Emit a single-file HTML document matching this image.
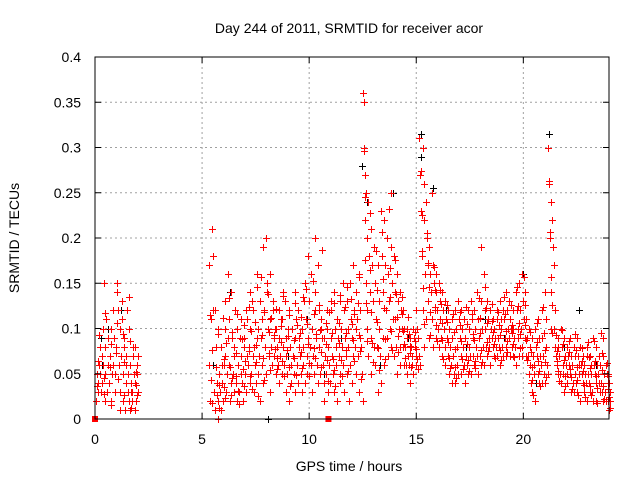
<!DOCTYPE html>
<html><head><meta charset="utf-8">
<style>
html,body{margin:0;padding:0;background:#fff;}
svg{display:block;font-family:"Liberation Sans",sans-serif;}
</style></head>
<body>
<svg id="chart" width="640" height="480" viewBox="0 0 640 480">
<rect width="640" height="480" fill="#fff"/>
<g id="grid"></g>
<g id="black-pts"></g>
<g id="red-pts"></g>
<rect x="95" y="57" width="514" height="362" fill="none" stroke="#000" stroke-width="1"/>
<g id="ticks"></g>
<text x="349" y="33" text-anchor="middle" font-size="14" fill="#000">Day 244 of 2011, SRMTID for receiver acor</text>
<text x="349" y="471" text-anchor="middle" font-size="14" fill="#000">GPS time / hours</text>
<text transform="translate(19,238) rotate(-90)" text-anchor="middle" font-size="14" fill="#000">SRMTID / TECUs</text>
</svg>
<script>
const xTicks=[0,5,10,15,20];
const yTicks=[0,0.05,0.1,0.15,0.2,0.25,0.3,0.35,0.4];
const yTickLabels=["0","0.05","0.1","0.15","0.2","0.25","0.3","0.35","0.4"];
const redTimes=[0.05,0.15,0.25,0.35,0.45,0.55,0.65,0.75,0.85,0.95,1.05,1.15,1.25,1.35,1.45,1.55,1.65,1.75,1.85,1.95,
5.3,5.45,5.6,5.75,5.9,6.05,6.2,6.35,6.5,6.65,6.8,6.95,7.1,7.25,7.4,7.55,7.7,7.85,8.0,8.15,8.3,8.45,8.6,8.75,8.9,9.05,9.2,9.35,9.5,9.65,9.8,9.95,10.1,10.25,10.4,10.55,10.7,10.85,11.0,11.15,11.3,11.45,11.6,11.75,11.9,12.05,12.2,12.35,12.5,12.6,12.75,12.9,13.05,13.2,13.35,13.5,13.65,13.8,13.95,14.1,14.25,14.4,14.55,14.7,14.85,15.0,15.15,15.3,15.45,15.6,15.75,15.9,16.05,16.2,16.35,16.5,16.65,16.8,16.95,17.1,17.25,17.4,17.55,17.7,17.85,18.0,18.15,18.3,18.45,18.6,18.75,18.9,19.05,19.2,19.35,19.5,19.65,19.8,19.95,20.1,20.25,20.4,20.55,20.7,20.85,21.0,21.15,21.3,21.45,21.6,21.75,21.9,22.05,22.2,22.35,22.5,22.65,22.8,22.95,23.1,23.25,23.4,23.55,23.7,23.85,23.95];
const redValues=[[.02,.05,.04],[.03,.06,.08],[.05,.03,.07,.1],[.04,.06,.15,.02],[.08,.05,.11],[.03,.06,.09],[.04,.07,.1],[.02,.05,.12],[.06,.09,.03],[.05,.08,.14],[.15,.12,.06,.01],[.1,.03,.07,.13],[.11,.02,.05,.08],[.09,.01,.04,.06],[.07,.12,.03,.02],[.05,.1,.01,.03],[.06,.04,.02,.08],[.03,.07,.05,.01],[.08,.04,.02,.06],[.05,.07,.03],
[.17,.06,.02,.11],[.21,.18,.12,.03,.01],[.12,.08,.04,.02,.0],[.1,.05,.03,.01,.06],[.08,.04,.02,.06,.1],[.13,.07,.03,.05,.09],[.16,.11,.06,.02,.04],[.14,.09,.05,.03,.07],[.08,.12,.04,.02,.06],[.1,.06,.03,.09,.05],[.07,.11,.04,.02,.08],[.09,.05,.12,.03,.07],[.11,.06,.08,.04,.14],[.1,.05,.13,.07,.03],[.12,.08,.06,.04,.09],[.16,.1,.05,.07,.02],[.13,.09,.06,.11,.04],[.19,.12,.08,.05,.15],[.2,.14,.1,.07,.03],[.16,.11,.08,.06,.12],[.13,.09,.07,.1,.05],[.1,.08,.06,.12,.04],[.09,.07,.11,.05,.14],[.11,.08,.06,.13,.03],[.09,.07,.05,.1,.02],[.12,.08,.06,.04,.1],[.1,.07,.05,.09,.03],[.14,.11,.06,.04,.08],[.12,.09,.07,.05,.03],[.1,.08,.06,.13,.04],[.15,.11,.07,.05,.09],[.18,.13,.08,.06,.03],[.16,.1,.07,.05,.12],[.2,.14,.09,.06,.04],[.17,.12,.08,.05,.1],[.11,.09,.06,.04,.02],[.09,.07,.05,.12,.03],[.1,.08,.06,.04,.13],[.12,.09,.07,.05,.03],[.14,.1,.08,.06,.02],[.11,.09,.07,.05,.04],[.13,.1,.08,.06,.03],[.15,.12,.09,.07,.05],[.13,.1,.08,.02,.06],[.15,.11,.09,.04,.07],[.17,.12,.08,.05,.1],[.14,.11,.07,.03,.09],[.16,.12,.08,.05,.02],[.36,.35,.3,.22,.15,.1],[.27,.25,.2,.12,.07],[.24,.18,.14,.09,.05],[.21,.17,.13,.08,.06],[.19,.15,.11,.08,.03],[.17,.13,.1,.07,.04],[.23,.18,.14,.09,.06],[.22,.17,.12,.09,.07],[.2,.16,.13,.1,.08],[.25,.19,.15,.11,.07],[.18,.14,.11,.08,.05],[.16,.13,.1,.08,.06],[.14,.12,.1,.08,.06],[.12,.1,.08,.06,.05],[.1,.09,.07,.06,.04],[.09,.08,.07,.06,.05],[.1,.09,.08,.07,.06],[.12,.1,.09,.07,.06],[.31,.27,.23,.18,.12,.08],[.3,.26,.22,.16,.11],[.24,.2,.17,.13,.09],[.19,.16,.14,.11,.08],[.25,.17,.15,.12,.09],[.16,.14,.12,.1,.08],[.15,.13,.11,.09,.07],[.14,.12,.1,.08,.06],[.13,.11,.09,.07,.05],[.12,.1,.08,.06,.04],[.11,.09,.07,.05,.04],[.12,.1,.08,.06,.05],[.13,.11,.09,.07,.05],[.12,.1,.08,.06,.04],[.11,.09,.07,.06,.05],[.12,.1,.08,.07,.05],[.13,.11,.09,.07,.06],[.12,.1,.08,.07,.05],[.14,.11,.09,.07,.06],[.19,.13,.1,.08,.06],[.16,.12,.1,.08,.07],[.13,.11,.09,.08,.06],[.12,.1,.09,.08,.07],[.11,.1,.09,.08,.07],[.12,.11,.09,.08,.06],[.13,.11,.1,.08,.07],[.12,.11,.09,.08,.07],[.14,.12,.1,.09,.07],[.13,.11,.1,.08,.07],[.12,.1,.09,.08,.06],[.14,.12,.1,.09,.07],[.15,.12,.1,.08,.07],[.16,.13,.11,.09,.07],[.14,.11,.09,.07,.05],[.1,.08,.06,.04,.03],[.09,.07,.06,.05,.02],[.1,.08,.07,.05,.04],[.11,.09,.07,.06,.04],[.12,.09,.07,.05,.04],[.14,.11,.08,.06,.05],[.3,.26,.2,.14,.1],[.24,.22,.19,.17,.12],[.1,.08,.07,.06,.05],[.09,.08,.07,.05,.04],[.1,.08,.06,.05,.03],[.09,.07,.06,.05,.04],[.08,.07,.06,.05,.03],[.09,.07,.06,.04,.03],[.08,.07,.05,.04,.03],[.09,.07,.06,.05,.02],[.08,.06,.05,.04,.03],[.07,.06,.05,.04,.02],[.08,.07,.05,.04,.03],[.07,.06,.05,.03,.02],[.09,.06,.05,.04,.02],[.08,.06,.05,.04,.03],[.07,.06,.04,.03,.02],[.09,.07,.05,.03,.02],[.06,.05,.04,.02,.01],[.05,.04,.03,.02]];
const redTimes2=[0.1,0.4,0.7,1.0,1.3,1.6,1.9,5.37,5.67,5.97,6.27,6.57,6.87,7.17,7.47,7.77,8.07,8.37,8.67,8.97,9.27,9.57,9.87,10.17,10.47,10.77,11.07,11.37,11.67,11.97,12.27,12.55,12.82,13.12,13.42,13.72,14.02,14.32,14.62,14.92,15.22,15.52,15.82,16.12,16.42,16.72,17.02,17.32,17.62,17.92,18.22,18.52,18.82,19.12,19.42,19.72,20.02,20.32,20.62,20.92,21.22,21.52,21.82,22.12,22.42,22.72,23.02,23.32,23.62,23.9];
const redValues2=[[.037,.064,.093],[.045,.028,.117],[.058,.083,.016],[.073,.106,.044],[.094,.027,.063],[.135,.086,.012],[.052,.038,.027],
[.115,.043,.018,.076],[.057,.026,.094,.012,.038],[.112,.066,.035,.023,.084],[.134,.058,.027,.096,.045],[.073,.047,.116,.031,.017],[.088,.055,.104,.036,.064],[.124,.075,.048,.097,.033],[.107,.082,.063,.146,.025],[.157,.093,.067,.118,.043],[.138,.096,.073,.054,.112],[.093,.077,.122,.055,.067],[.103,.085,.064,.136,.047],[.076,.092,.115,.058,.036],[.087,.067,.128,.049,.104],[.095,.113,.074,.056,.135],[.144,.105,.083,.062,.047],[.152,.116,.078,.067,.094],[.126,.098,.074,.057,.187],[.083,.106,.065,.042,.118],[.095,.066,.128,.054,.037],[.106,.084,.137,.065,.048],[.124,.095,.076,.146,.053],[.133,.105,.087,.064,.116],[.128,.093,.157,.075,.044],[.296,.245,.176,.128,.086],[.228,.165,.118,.084,.063],[.186,.143,.107,.078,.054],[.207,.155,.123,.088,.066],[.232,.167,.135,.097,.076],[.176,.138,.113,.092,.074],[.135,.116,.097,.083,.067],[.113,.094,.081,.073,.058],[.096,.086,.077,.066,.055],[.274,.225,.186,.145,.105],[.205,.172,.146,.118,.093],[.168,.143,.124,.104,.086],[.143,.127,.106,.087,.066],[.126,.107,.085,.067,.056],[.116,.096,.077,.058,.045],[.118,.104,.086,.066,.055],[.124,.105,.083,.065,.053],[.116,.094,.087,.064,.056],[.134,.112,.095,.076,.063],[.146,.123,.106,.085,.075],[.127,.108,.096,.083,.067],[.118,.104,.093,.076,.065],[.135,.116,.097,.086,.074],[.126,.104,.095,.083,.069],[.146,.125,.106,.094,.078],[.157,.126,.104,.087,.065],[.096,.074,.057,.043,.027],[.106,.085,.064,.053,.036],[.124,.095,.076,.063,.046],[.263,.207,.157,.126,.095],[.093,.075,.064,.053,.042],[.098,.083,.065,.047,.036],[.086,.074,.055,.046,.033],[.094,.076,.058,.043,.027],[.078,.064,.053,.038,.024],[.085,.068,.056,.037,.026],[.086,.064,.047,.034,.018],[.095,.073,.054,.036,.022],[.062,.047,.033,.024,.012]];
const blackTimes=[0.3,0.6,1.2,1.6,5.5,6.3,7.2,8.1,9.0,9.9,10.7,11.5,12.45,12.7,13.3,13.9,14.6,15.2,15.8,16.4,17.3,18.2,19.1,20.0,20.6,21.2,21.9,22.6,23.4];
const blackValues=[[.09,.06],[.1],[.12],[.135],[.06],[.14],[.08],[.0],[.07],[.11],[.05],[.09],[.28],[.24],[.06],[.25],[.09],[.315,.29],[.255],[.12],[.08],[.11],[.09],[.16],[.04],[.315],[.08],[.12],[.06]];
const markerTimes=[0,10.9];
const markerValues=[0,0];

const X0=95,X1=609,Y0=419,Y1=57;
const xs=t=>X0+(t/24)*(X1-X0);
const ys=v=>Y0-(v/0.4)*(Y0-Y1);
const NS='http://www.w3.org/2000/svg';
const grid=document.getElementById('grid'),ticks=document.getElementById('ticks');
function mk(tag,attrs,parent){const e=document.createElementNS(NS,tag);for(const k in attrs)e.setAttribute(k,attrs[k]);parent.appendChild(e);return e;}
xTicks.forEach(t=>{
  const x=xs(t);
  if(t>0){const g=mk('line',{x1:x,x2:x,y1:Y1,y2:Y0,stroke:'#a0a0a0','stroke-dasharray':'2,3','stroke-width':1},grid);
  
  }
  mk('line',{x1:x,x2:x,y1:Y0,y2:Y0-6,stroke:'#000'},ticks);
  mk('line',{x1:x,x2:x,y1:Y1,y2:Y1+6,stroke:'#000'},ticks);
  const l=mk('text',{x:x,y:Y0+25,'text-anchor':'middle','font-size':14,fill:'#000'},ticks);
  l.textContent=t;
  
  
});
yTicks.forEach((v,i)=>{
  const y=ys(v);
  if(v>0&&v<0.4){const g=mk('line',{x1:X0,x2:X1,y1:y,y2:y,stroke:'#a0a0a0','stroke-dasharray':'2,3','stroke-width':1},grid);
  
  }
  mk('line',{x1:X0,x2:X0+6,y1:y,y2:y,stroke:'#000'},ticks);
  mk('line',{x1:X1,x2:X1-6,y1:y,y2:y,stroke:'#000'},ticks);
  const l=mk('text',{x:X0-14,y:y+5,'text-anchor':'end','font-size':14,fill:'#000'},ticks);
  l.textContent=yTickLabels[i];
  
  
});
function plus(parent,t,v,color,name){
  const x=Math.round(xs(t))+0.5,y=Math.round(ys(v))+0.5;
  const p=mk('path',{d:`M${x-3.5},${y}h7M${x},${y-3.5}v7`,stroke:color,'stroke-width':1,fill:'none'},parent);
  
  
}
const bg=document.getElementById('black-pts'),rg=document.getElementById('red-pts');
blackTimes.forEach((t,i)=>blackValues[i].forEach((v,j)=>plus(bg,t+j*0.04,v,'#000','black-point')));
redTimes.forEach((t,i)=>redValues[i].forEach((v,j)=>plus(rg,t+j*0.04,v,'#ff0000','red-point')));
redTimes2.forEach((t,i)=>redValues2[i].forEach((v,j)=>plus(rg,t+j*0.035,v,'#ff0000','red-point')));
markerTimes.forEach((t,i)=>{
  const s=mk('rect',{x:xs(t)-3,y:ys(markerValues[i])-3,width:6,height:6,fill:'#ff0000'},rg);
  
  
});
</script>
</body></html>
